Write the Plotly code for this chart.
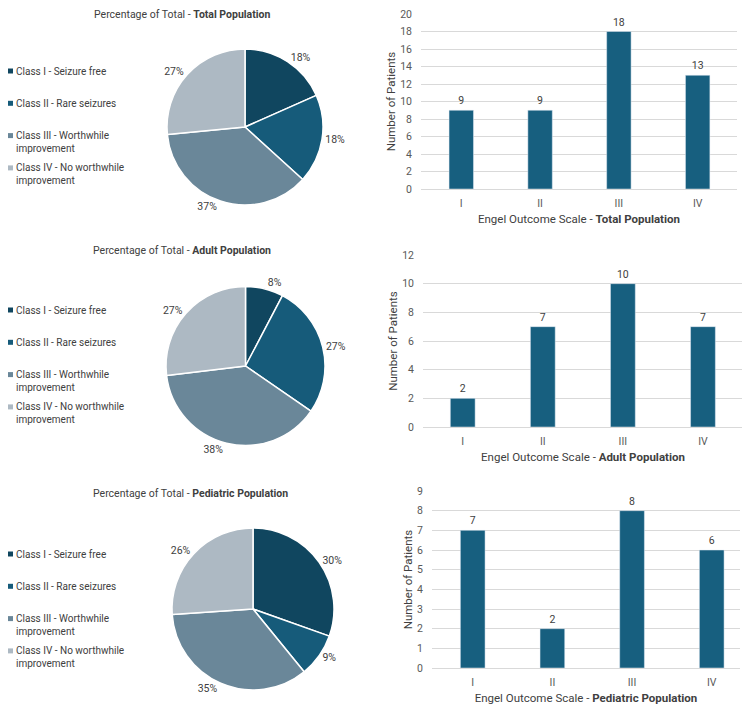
import plotly.graph_objects as go

# ---------------- data ----------------
class_labels = ["Class I - Seizure free", "Class II - Rare seizures",
                "Class III - Worthwhile improvement", "Class IV - No worthwhile improvement"]
legend_text = ["Class I - Seizure free", "Class II - Rare seizures",
               "Class III - Worthwhile<br>improvement", "Class IV - No worthwhile<br>improvement"]
engel_ticks = ["I", "II", "III", "IV"]
total_counts = [9, 9, 18, 13]
adult_counts = [2, 7, 10, 7]
pediatric_counts = [7, 2, 8, 6]
population_names = ["Total Population", "Adult Population", "Pediatric Population"]

# ---------------- style ----------------
PAGE_OFF = 8                       # default body margin of the html page
W, H = 750 - PAGE_OFF, 712 - PAGE_OFF
FONT = "Roboto, Liberation Sans, Arial, sans-serif"
pie_colors = ["#10465f", "#165b7a", "#6a8799", "#adb9c3"]
bar_color = "#175f7f"
TXT = "#404040"
TICK = "#595959"


def px_x(v):
    return (v - PAGE_OFF) / W


def px_y(v):
    return 1 - (v - PAGE_OFF) / H


# layout geometry per panel (screen pixels)
panels = [
    dict(counts=total_counts, pie_x=(167, 323), pie_y=(49, 205), title_xy=(182, 14),
         legend_top=71, bar_x=(421, 737), bar_y=(14, 189), xr=(-0.511, 3.499), yr=(0, 20), dtick=2),
    dict(counts=adult_counts, pie_x=(166, 325), pie_y=(286, 446), title_xy=(182, 250),
         legend_top=310, bar_x=(423, 743), bar_y=(255, 427), xr=(-0.496, 3.50), yr=(0, 12), dtick=2),
    dict(counts=pediatric_counts, pie_x=(172, 334), pie_y=(528, 690), title_xy=(190, 493),
         legend_top=554, bar_x=(432, 740), bar_y=(491, 668), xr=(-0.511, 3.355), yr=(0, 9), dtick=1),
]

fig = go.Figure()
annotations = []
shapes = []
legend_step = 32.3

for i, (p, pname) in enumerate(zip(panels, population_names)):
    n = "" if i == 0 else str(i + 1)
    # pie
    fig.add_trace(go.Pie(
        labels=class_labels, values=p["counts"], sort=False, direction="clockwise",
        rotation=0, marker=dict(colors=pie_colors, line=dict(color="white", width=1.5)),
        textposition="outside", texttemplate="%{percent:.0%}",
        textfont=dict(family=FONT, size=10.5, color=TXT),
        domain=dict(x=[px_x(p["pie_x"][0]), px_x(p["pie_x"][1])],
                    y=[px_y(p["pie_y"][1]), px_y(p["pie_y"][0])]),
        showlegend=False, hoverinfo="label+value+percent",
    ))
    # bar
    fig.add_trace(go.Bar(
        x=engel_ticks, y=p["counts"], marker=dict(color=bar_color), width=0.31,
        text=p["counts"], textposition="outside", cliponaxis=False,
        textfont=dict(family=FONT, size=10.5, color=TXT),
        xaxis="x" + n, yaxis="y" + n, showlegend=False,
    ))
    fig.update_layout(**{
        "xaxis" + n: dict(domain=[px_x(p["bar_x"][0]), px_x(p["bar_x"][1])], range=list(p["xr"]),
                          anchor="y" + n, showgrid=False, zeroline=False, showline=False, ticks="",
                          ticklen=0, ticklabelstandoff=6, automargin=False,
                          tickfont=dict(family=FONT, size=10.5, color=TICK),
                          title=dict(text="Engel Outcome Scale - <b>" + pname + "</b>",
                                     font=dict(family=FONT, size=11.5, color=TXT), standoff=6)),
        "yaxis" + n: dict(domain=[px_y(p["bar_y"][1]), px_y(p["bar_y"][0])], range=list(p["yr"]),
                          dtick=p["dtick"], anchor="x" + n, showgrid=True, gridcolor="#d9d9d9",
                          gridwidth=1, zeroline=True, zerolinecolor="#d9d9d9", zerolinewidth=1,
                          showline=False, ticks="", ticklen=0, ticklabelstandoff=8,
                          ticklabeloverflow="allow", automargin=False,
                          tickfont=dict(family=FONT, size=10.5, color=TICK),
                          title=dict(text="Number of Patients",
                                     font=dict(family=FONT, size=11.5, color=TXT), standoff=2)),
    })
    # pie title
    annotations.append(dict(
        text="Percentage of Total - <b>" + pname + "</b>", xref="paper", yref="paper",
        x=px_x(p["title_xy"][0]), y=px_y(p["title_xy"][1]), xanchor="center", yanchor="middle",
        showarrow=False, font=dict(family=FONT, size=10.5, color=TXT)))
    # custom legend
    for k, (lab, col) in enumerate(zip(legend_text, pie_colors)):
        yc = p["legend_top"] + k * legend_step
        shapes.append(dict(type="rect", xref="paper", yref="paper",
                           x0=px_x(8), x1=px_x(13), y0=px_y(yc + 2.5), y1=px_y(yc - 2.5),
                           fillcolor=col, line=dict(width=0)))
        annotations.append(dict(
            text=lab, xref="paper", yref="paper", x=px_x(14), y=px_y(yc - 7.5),
            xanchor="left", yanchor="top", align="left", showarrow=False,
            font=dict(family=FONT, size=10, color=TXT)))

fig.update_layout(
    width=W, height=H, margin=dict(l=0, r=0, t=0, b=0),
    paper_bgcolor="white", plot_bgcolor="white",
    annotations=annotations, shapes=shapes,
    font=dict(family=FONT, color=TXT),
)

fig.write_html("out.html")
